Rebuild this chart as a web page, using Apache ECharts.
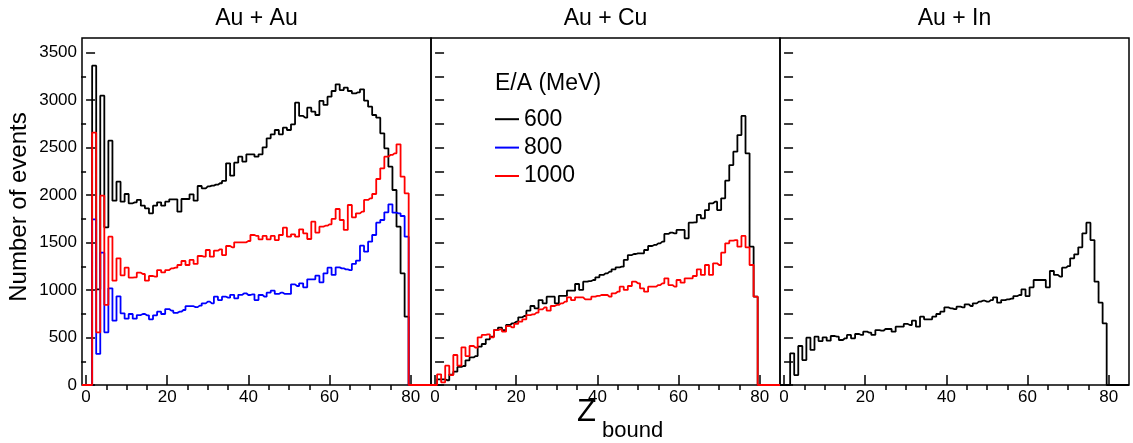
<!DOCTYPE html>
<html lang="en">
<head>
<meta charset="UTF-8">
<title>Z bound distributions</title>
<script src="https://cdn.jsdelivr.net/npm/echarts@6/dist/echarts.min.js"></script>
<style>
  body { margin: 0; background: #fff; }
  #container { width: 1133px; height: 443px; }
</style>
</head>
<body>
<div id="container"></div>
<script>
// one value per Z_bound bin, Z = 0 .. 79
var auAu600 = [0, 0, 3364, 1008, 3048, 1661, 2574, 1942, 2142, 1931,
  2012, 1914, 1924, 1949, 1889, 1861, 1808, 1889, 1924, 1889,
  1931, 1956, 1956, 1826, 1959, 1959, 2008, 1942, 2096, 2072,
  2093, 2100, 2110, 2125, 2150, 2335, 2205, 2342, 2405, 2353,
  2430, 2430, 2405, 2430, 2503, 2598, 2640, 2686, 2640, 2710,
  2686, 2746, 2974, 2834, 2816, 2921, 2879, 2844, 2992, 2950,
  3037, 3097, 3167, 3107, 3132, 3097, 3072, 3083, 3114, 2995,
  2932, 2844, 2816, 2651, 2493, 2300, 2054, 1668, 1176, 720];
var auAu800 = [0, 0, 1745, 327, 1394, 555, 1018, 678, 934, 755,
  699, 748, 699, 737, 748, 734, 692, 734, 772, 748,
  800, 783, 760, 772, 790, 830, 830, 820, 836, 860,
  878, 860, 930, 895, 930, 920, 950, 913, 950, 966,
  948, 955, 895, 948, 930, 972, 994, 959, 972, 959,
  959, 1060, 1043, 1071, 1029, 1113, 1113, 1152, 1081, 1176,
  1236, 1159, 1239, 1229, 1218, 1211, 1275, 1310, 1468, 1404,
  1510, 1580, 1710, 1738, 1819, 1903, 1815, 1808, 1780, 1562];
var auAu1000 = [0, 0, 2658, 555, 1994, 843, 1562, 1099, 1334, 1155,
  1236, 1131, 1134, 1183, 1169, 1099, 1148, 1141, 1211, 1187,
  1211, 1229, 1236, 1264, 1306, 1264, 1317, 1275, 1359, 1352,
  1422, 1352, 1415, 1429, 1369, 1464, 1450, 1503, 1503, 1503,
  1517, 1580, 1570, 1534, 1570, 1534, 1570, 1527, 1580, 1657,
  1562, 1587, 1562, 1640, 1598, 1538, 1720, 1605, 1668, 1678,
  1692, 1749, 1854, 1738, 1633, 1896, 1766, 1808, 1826, 1949,
  1966, 2012, 2170, 2282, 2405, 2423, 2440, 2535, 2194, 2019];
var auCu600 = [0, 60, 60, 50, 110, 140, 190, 200, 260, 290,
  305, 404, 432, 481, 509, 579, 604, 579, 632, 650,
  667, 713, 727, 783, 832, 808, 895, 860, 930, 930,
  860, 938, 938, 994, 994, 1064, 1001, 1088, 1095, 1106,
  1134, 1159, 1176, 1194, 1218, 1240, 1246, 1317, 1369, 1380,
  1387, 1387, 1422, 1464, 1475, 1492, 1510, 1591, 1605, 1598,
  1633, 1633, 1545, 1710, 1713, 1791, 1756, 1843, 1914, 1931,
  1843, 1966, 2152, 2317, 2458, 2633, 2834, 2440, 1457, 930];
var auCu1000 = [0, 112, 28, 204, 105, 316, 204, 397, 305, 411,
  393, 502, 527, 534, 502, 579, 586, 562, 621, 607,
  643, 667, 692, 737, 744, 762, 797, 818, 783, 832,
  843, 860, 878, 923, 895, 923, 923, 902, 902, 930,
  938, 948, 948, 930, 966, 983, 1036, 1001, 1043, 1088,
  1071, 1018, 983, 1036, 1036, 1053, 1071, 1124, 1053, 1036,
  1106, 1078, 1124, 1124, 1148, 1218, 1159, 1264, 1159, 1282,
  1264, 1394, 1492, 1520, 1527, 1457, 1570, 1450, 1264, 930];
var auIn600 = [0, 0, 334, 105, 411, 263, 499, 369, 509, 463,
  502, 467, 516, 509, 474, 492, 527, 492, 537, 527,
  562, 551, 527, 579, 572, 590, 590, 562, 614, 614,
  643, 632, 678, 614, 720, 692, 692, 720, 748, 772,
  818, 808, 800, 825, 818, 850, 832, 860, 878, 888,
  878, 895, 923, 867, 895, 902, 909, 937, 948, 1008,
  937, 1029, 1106, 1106, 1106, 1029, 1201, 1159, 1141, 1236,
  1253, 1334, 1376, 1450, 1598, 1710, 1527, 1088, 867, 650];

var panelTitles = ['Au + Au', 'Au + Cu', 'Au + In'];
var energyNames = ['600', '800', '1000'];
var energyColors = ['#000000', '#0000ff', '#ff0000'];
// which energies are shown in each panel
var panelData = [
  [auAu600, auAu800, auAu1000],
  [auCu600, null, auCu1000],
  [auIn600, null, null]
];

var xTickLabels = [0, 20, 40, 60, 80];
var xMinorTicks = [5, 10, 15, 25, 30, 35, 45, 50, 55, 65, 70, 75];
var yTickLabels = [0, 500, 1000, 1500, 2000, 2500, 3000, 3500];
var yMinorTicks = [250, 750, 1250, 1750, 2250, 2750, 3250];
var yAllTicks = [0, 250, 500, 750, 1000, 1250, 1500, 1750, 2000, 2250, 2500, 2750, 3000, 3250, 3500];

var FONT = 'Liberation Sans, Arial, sans-serif';
var X_MIN = -1, X_MAX = 85, Y_MAX = 3655;
var gridLefts = [82, 431, 780];
var GRID_W = 349, GRID_TOP = 38, GRID_H = 347;

// histogram -> step points, padded with empty bins to the axis ends
function toSteps(vals) {
  var pts = [];
  for (var z = X_MIN; z <= X_MAX; z++) {
    pts.push([z, (z >= 0 && z < vals.length) ? vals[z] : 0]);
  }
  return pts;
}

function plainNumber(v) { return String(v); }

var grids = [], xAxes = [], yAxes = [], series = [], graphics = [];

gridLefts.forEach(function (left, g) {
  grids.push({
    left: left, top: GRID_TOP, width: GRID_W, height: GRID_H,
    show: true, borderColor: '#000', borderWidth: 1.5,
    backgroundColor: 'transparent', containLabel: false, outerBoundsMode: 'none'
  });

  // major x ticks + labels
  xAxes.push({
    type: 'value', gridIndex: g, min: X_MIN, max: X_MAX,
    axisLine: { show: false }, splitLine: { show: false },
    axisTick: { inside: true, length: 10, customValues: xTickLabels, lineStyle: { color: '#000', width: 1.5 } },
    axisLabel: { customValues: xTickLabels, formatter: plainNumber, color: '#000', fontSize: 17, fontFamily: FONT, margin: 4 }
  });
  // minor x ticks
  xAxes.push({
    type: 'value', gridIndex: g, min: X_MIN, max: X_MAX,
    axisLine: { show: false }, splitLine: { show: false }, axisLabel: { show: false },
    axisTick: { inside: true, length: 5, customValues: xMinorTicks, lineStyle: { color: '#000', width: 1.5 } }
  });

  if (g === 0) {
    yAxes.push({
      type: 'value', gridIndex: g, min: 0, max: Y_MAX,
      axisLine: { show: false }, splitLine: { show: false },
      axisTick: { inside: true, length: 9, customValues: yTickLabels, lineStyle: { color: '#000', width: 1.5 } },
      axisLabel: { customValues: yTickLabels, formatter: plainNumber, color: '#000', fontSize: 17, fontFamily: FONT, margin: 5 }
    });
    yAxes.push({
      type: 'value', gridIndex: g, min: 0, max: Y_MAX,
      axisLine: { show: false }, splitLine: { show: false }, axisLabel: { show: false },
      axisTick: { inside: true, length: 5, customValues: yMinorTicks, lineStyle: { color: '#000', width: 1.5 } }
    });
  } else {
    yAxes.push({
      type: 'value', gridIndex: g, min: 0, max: Y_MAX,
      axisLine: { show: false }, splitLine: { show: false }, axisLabel: { show: false },
      axisTick: { inside: true, length: 9, customValues: yAllTicks, lineStyle: { color: '#000', width: 1.5 } }
    });
    yAxes.push({
      type: 'value', gridIndex: g, min: 0, max: Y_MAX, show: false
    });
  }

  panelData[g].forEach(function (vals, e) {
    if (!vals) return;
    series.push({
      name: energyNames[e], type: 'line', step: 'middle',
      xAxisIndex: 2 * g, yAxisIndex: 2 * g,
      data: toSteps(vals),
      symbol: 'none', showSymbol: false, clip: true,
      color: energyColors[e],
      itemStyle: { color: energyColors[e] },
      lineStyle: { color: energyColors[e], width: 1.8 },
      z: 3 + e
    });
  });

  graphics.push({
    type: 'text', x: left + GRID_W / 2, y: 19,
    style: {
      text: panelTitles[g], font: '23px ' + FONT, fill: '#000',
      align: 'center', textAlign: 'center', verticalAlign: 'middle', textVerticalAlign: 'middle'
    }
  });
});

// axis titles and legend header
graphics.push({
  type: 'text', x: 19, y: 207, rotation: Math.PI / 2,
  style: {
    text: 'Number of events', font: '24px ' + FONT, fill: '#000',
    align: 'center', textAlign: 'center', verticalAlign: 'middle', textVerticalAlign: 'middle'
  }
});
graphics.push({
  type: 'text', x: 577, y: 412,
  style: { text: 'Z', font: '31px ' + FONT, fill: '#000', align: 'left', textAlign: 'left', verticalAlign: 'middle', textVerticalAlign: 'middle' }
});
graphics.push({
  type: 'text', x: 602, y: 431,
  style: { text: 'bound', font: '22px ' + FONT, fill: '#000', align: 'left', textAlign: 'left', verticalAlign: 'middle', textVerticalAlign: 'middle' }
});
graphics.push({
  type: 'text', x: 495, y: 84,
  style: { text: 'E/A (MeV)', font: '23px ' + FONT, fill: '#000', align: 'left', textAlign: 'left', verticalAlign: 'middle', textVerticalAlign: 'middle' }
});

var myChart = echarts.init(document.getElementById('container'), null, { renderer: 'canvas' });
myChart.setOption({
  animation: false,
  backgroundColor: '#ffffff',
  grid: grids,
  xAxis: xAxes,
  yAxis: yAxes,
  legend: {
    data: energyNames, orient: 'vertical', left: 490, top: 100,
    icon: 'rect', itemWidth: 24, itemHeight: 2, itemGap: 0, itemTextGap: 9,
    selectedMode: false,
    textStyle: { color: '#000', fontSize: 23, lineHeight: 28.4, fontFamily: FONT }
  },
  graphic: graphics,
  series: series
});
</script>
</body>
</html>
